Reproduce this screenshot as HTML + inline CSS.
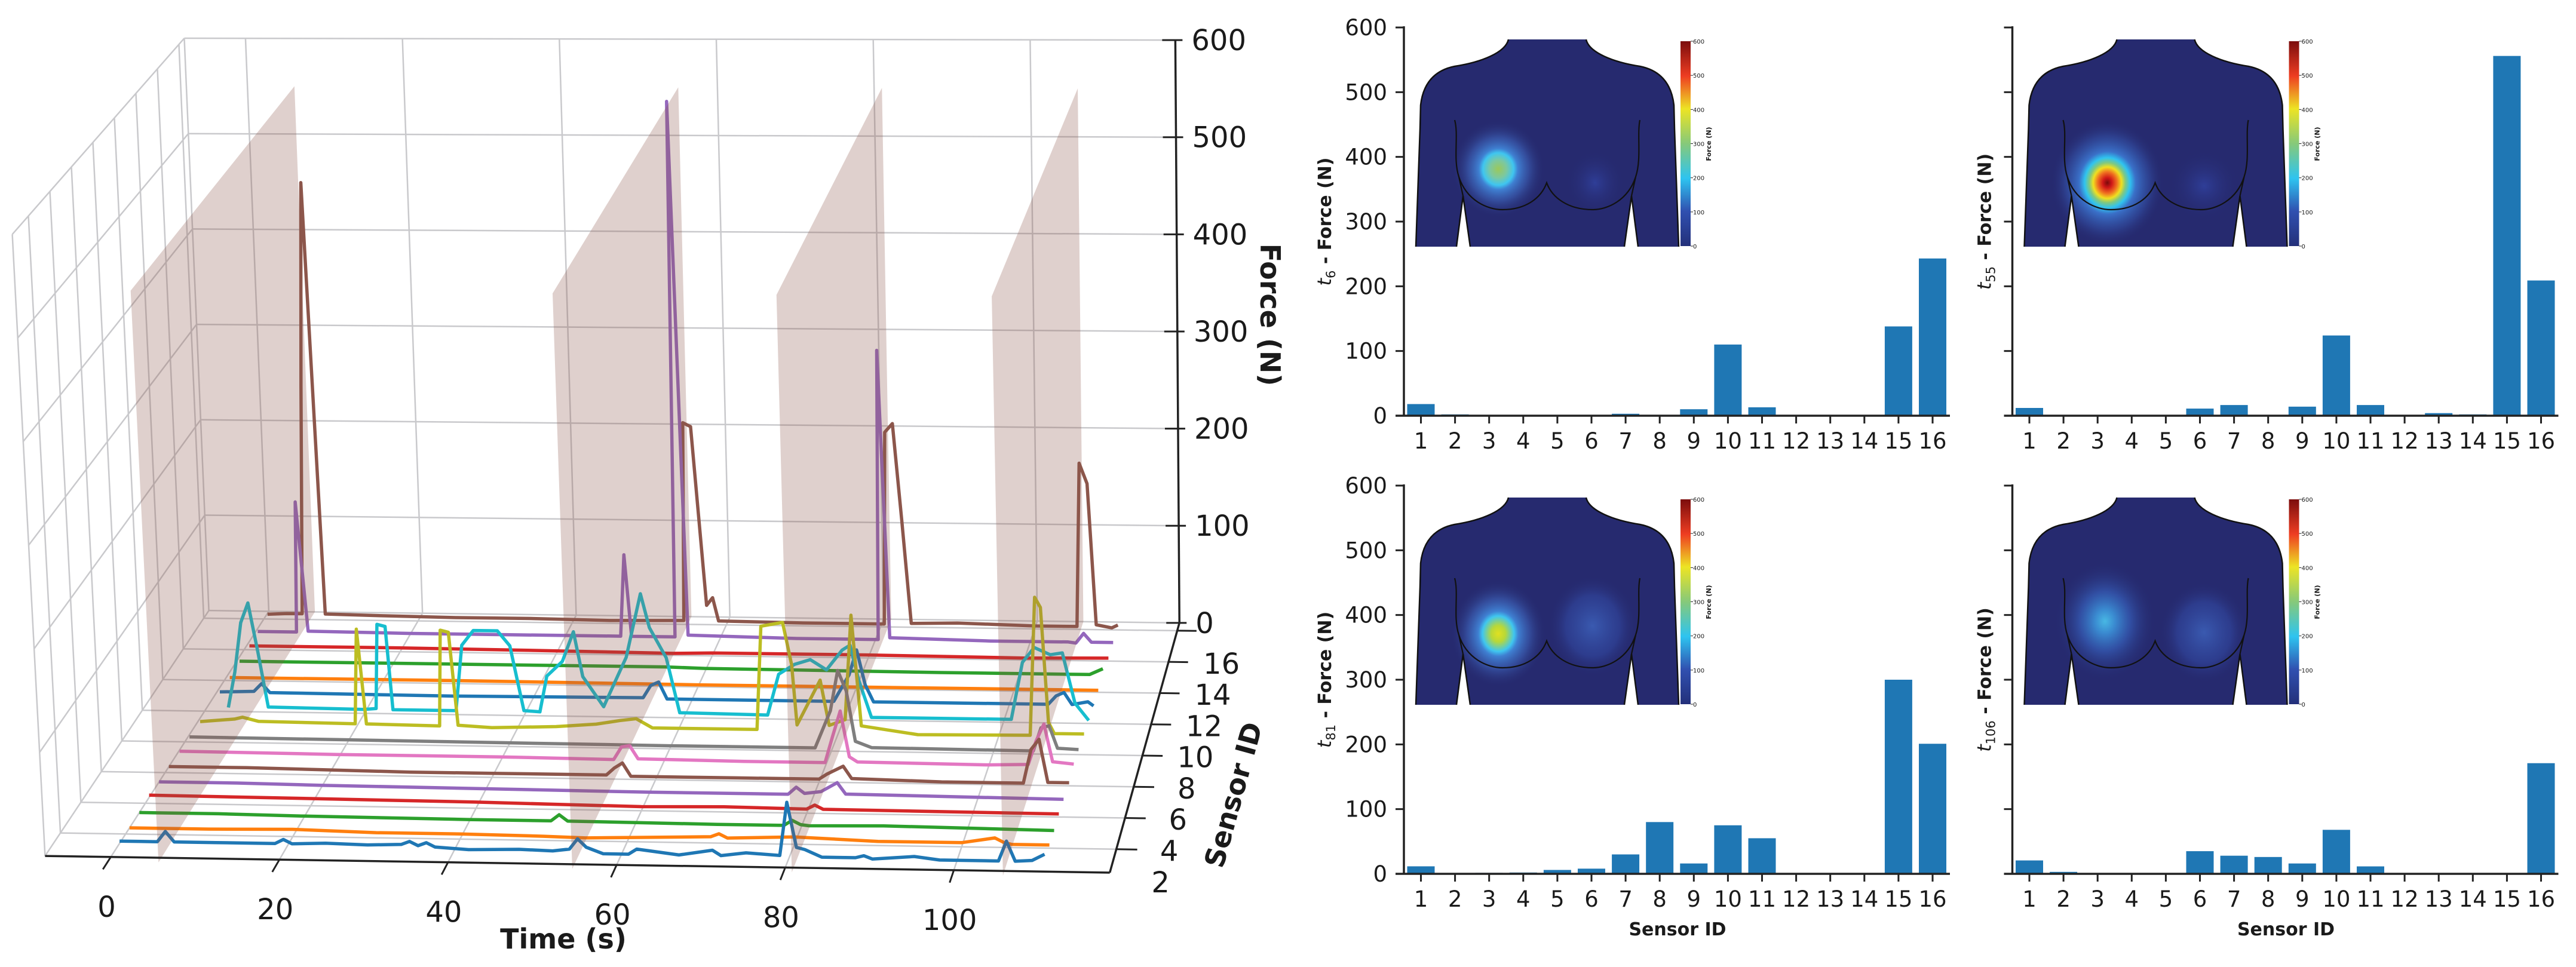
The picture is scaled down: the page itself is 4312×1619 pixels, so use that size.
<!DOCTYPE html>
<html><head><meta charset="utf-8"><title>Sensor force 3D and bar charts</title>
<style>
html,body{margin:0;padding:0;background:#fff;}
svg{display:block;font-family:"DejaVu Sans","Liberation Sans",sans-serif;}
</style></head>
<body>
<svg id="fig" xmlns="http://www.w3.org/2000/svg" width="4312" height="1619" viewBox="0 0 4312 1619">
  <defs>
    <linearGradient id="jet" x1="0" y1="1" x2="0" y2="0">
      <stop offset="0" stop-color="#23307a"/><stop offset="0.17" stop-color="#3050b0"/>
      <stop offset="0.33" stop-color="#2ec4f0"/><stop offset="0.5" stop-color="#86c97a"/>
      <stop offset="0.67" stop-color="#ede424"/><stop offset="0.83" stop-color="#ee3d22"/>
      <stop offset="1" stop-color="#7c0d0d"/>
    </linearGradient>
    <radialGradient id="blobT6"><stop offset="0" stop-color="#9bc85a"/><stop offset="0.18" stop-color="#7cc8a0"/><stop offset="0.33" stop-color="#3fc6f0"/><stop offset="0.42" stop-color="#3f80d2"/><stop offset="0.65" stop-color="#3a5cb0" stop-opacity="0.7"/><stop offset="1" stop-color="#262a6f" stop-opacity="0"/></radialGradient>
    <radialGradient id="blobT55"><stop offset="0" stop-color="#7a0a0a"/><stop offset="0.08" stop-color="#d01818"/><stop offset="0.17" stop-color="#f07020"/><stop offset="0.25" stop-color="#f0e020"/><stop offset="0.32" stop-color="#80c880"/><stop offset="0.4" stop-color="#30c4f0"/><stop offset="0.5" stop-color="#3a70c8"/><stop offset="0.75" stop-color="#30489a" stop-opacity="0.7"/><stop offset="1" stop-color="#262a6f" stop-opacity="0"/></radialGradient>
    <radialGradient id="blobT81"><stop offset="0" stop-color="#e0e020"/><stop offset="0.15" stop-color="#b8d838"/><stop offset="0.33" stop-color="#3fc6f0"/><stop offset="0.42" stop-color="#3f80d2"/><stop offset="0.65" stop-color="#3a5cb0" stop-opacity="0.7"/><stop offset="1" stop-color="#262a6f" stop-opacity="0"/></radialGradient>
    <radialGradient id="blobT106"><stop offset="0" stop-color="#48b8e4"/><stop offset="0.2" stop-color="#3a8ad0"/><stop offset="0.5" stop-color="#3458b0" stop-opacity="0.8"/><stop offset="1" stop-color="#262a6f" stop-opacity="0"/></radialGradient>
    <radialGradient id="blobFaint"><stop offset="0" stop-color="#2f3e98"/><stop offset="1" stop-color="#262a6f" stop-opacity="0"/></radialGradient>
    <radialGradient id="blobMid"><stop offset="0" stop-color="#3a5ab0"/><stop offset="0.6" stop-color="#30449a" stop-opacity="0.7"/><stop offset="1" stop-color="#262a6f" stop-opacity="0"/></radialGradient>
    <clipPath id="bodyClip"><path d="M155,0 C150,22 110,38 65,45 C30,52 12,75 8,110 L7,150 L0,347 L68,347 L79,262 L91,347 L349,347 L361,262 L372,347 L440,347 L433,150 L432,110 C428,75 410,52 375,45 C330,38 290,22 285,0 Z"/></clipPath>
  </defs>
  <g id="plot3d"></g>
  <g id="bars"></g>
</svg>
<script>
// ---------- data ----------
const sensorIds = [1,2,3,4,5,6,7,8,9,10,11,12,13,14,15,16];
const forceTicks = [0,100,200,300,400,500,600];
const timeTicks = [0,20,40,60,80,100];
const sensorTicks = [2,4,6,8,10,12,14,16];
const snapshotTimes = [6,55,81,106];
const barsT6 = [18,2,0,0,0,0,3,0,10,110,13,0,0,0,138,243];
const barsT55 = [12,0,0,0,0,11,16.5,0,14,124,16.5,0,4,2,556,209];
const barsT81 = [11.6,0,1.5,2,6,8,30,80,16,75,55,0,0,1,300,201];
const barsT106 = [20.7,3,0,0,0,35,28,26,16,68,11.5,0,0,1,1,171];

const sensor1 = [[0.5,8],[3,8],[5,8],[6,18],[7,8],[12,8],[15,8],[19,8],[20,12],[21,8],[25,9],[30,8],[34,9],[35,12],[36,8],[37,11],[38,7],[42,5],[48,6],[52,5],[54,7],[55,17],[56,9],[58,3],[61,3],[62,8],[64,6],[67,3],[71,8],[72,3],[75,6],[79,4],[80,55],[81,12],[82,10],[84,3],[88,3],[89,5],[90,2],[95,5],[98,2],[105,2],[106,21],[107,2],[109,3],[110.5,9]];
const sensor2 = [[0.5,6],[10,6],[20,7],[30,5],[40,5],[50,4],[55,3],[60,4],[70,6],[71,9],[72,5],[80,7],[90,4],[100,4],[104,9],[105,5],[106,3],[110.5,3]];
const sensor3 = [[0.5,6],[10,6],[20,5],[40,4],[50,4],[51,10],[52,4],[70,3],[78,3],[79,8],[80,4],[81,3],[90,4],[110.5,2]];
const sensor4 = [[0.5,8],[20,7],[40,6],[50,5],[60,4],[70,5],[80,4],[81,8],[82,4],[110.5,3]];
const sensor5 = [[0.5,6],[10,6],[20,5],[40,4],[60,3],[77,3],[78,10],[79,4],[81,6],[83,15],[84,4],[110.5,2]];
const sensor6 = [[0.5,6],[10,6],[20,5],[30,4],[40,4],[54,4],[55,11],[56,16],[57,3],[70,3],[80,3],[81,8],[83,16],[84,4],[95,2],[105,2],[106,35],[107,45],[108,3],[110.6,3]];
const sensor7 = [[0.6,6],[20,5],[40,5],[54,4],[55,16.5],[56,18],[57,5],[70,4],[80,4],[81,30],[82,55],[83,10],[84,5],[100,4],[105,5],[106,28],[107,45],[108,8],[110.6,6]];
const sensor8 = [[0.6,5],[30,4],[60,3],[78,3],[80,40],[81,80],[82,60],[83,10],[85,4],[105,3],[106,26],[107,28],[108,6],[110.6,5]];
const sensor9 = [[0.7,5],[5,8],[6,10],[8,6],[20,5],[20.6,100],[21.4,5],[30.5,4],[31,100],[32,98],[32.8,5],[37,3],[45,5],[50,8],[53,12],[55,14],[57,5],[70,5],[70.8,108],[73.5,112],[74.5,70],[75,10],[78,55],[79,10],[81,16],[82,120],[83,10],[90,2],[104,3],[104.8,140],[105.5,130],[106.3,16],[107,5],[110.7,5]];
const sensor10 = [[3,4],[4,40],[5,90],[6,110],[7,60],[8,5],[20,4],[21.5,5],[22,90],[23,88],[23.6,4],[31.5,4],[32.5,70],[34,85],[37,85],[38.5,70],[40,5],[42,4],[43,40],[45,55],[46.5,85],[47.5,40],[50,10],[53,60],[55,124],[56,90],[58,60],[59.5,5],[70.5,4],[72,45],[74,55],[76,60],[78,50],[80,70],[81,75],[82,40],[83.5,3],[101,3],[102.5,60],[104,75],[106,68],[107.5,70],[109,20],[110.7,3]];
const sensor11 = [[0.7,4],[5,5],[6,13],[7,4],[30,3],[54,4],[55,16.5],[56,20],[57,3],[78,3],[80,30],[81,55],[82,20],[83,3],[105,3],[106,11.5],[107,15],[108,3],[110,6],[110.7,2]];
const sensor12 = [[0.7,3],[30,3],[60,2],[90,2],[110.7,2]];
const sensor13 = [[0.7,4],[30,4],[55,4],[60,3],[90,2],[109,2],[110.7,8]];
const sensor14 = [[0.7,4],[20,4],[40,3],[55,2],[60,3],[80,3],[100,2],[110.8,3]];
const sensor15 = [[0.5,3],[5.5,3],[6,138],[7,4],[20,3],[40,3],[47.3,3],[48,87],[48.7,3],[54.3,3],[55,555],[56,5],[70,3],[80.5,3],[81,300],[82,5],[95,3],[105,3],[106,2],[107,12],[108,3],[110.8,3]];
const sensor16 = [[0.5,5],[3,6],[5,6],[6,243],[7,456],[8,6],[15,5],[25,4],[35,4],[45,3],[54.5,4],[55,209],[56,205],[57.5,20],[58.3,28],[59,4],[70,3],[80.5,3],[81,201],[82,210],[83,110],[84,4],[90,5],[100,3],[105.5,3],[106,171],[107,150],[108,5],[110,2],[110.8,5]];
const allSensors = [sensor1,sensor2,sensor3,sensor4,sensor5,sensor6,sensor7,sensor8,sensor9,sensor10,sensor11,sensor12,sensor13,sensor14,sensor15,sensor16];
const sensorColors = ['#1f77b4','#ff7f0e','#2ca02c','#d62728','#9467bd','#8c564b','#e377c2','#7f7f7f','#bcbd22','#17becf','#1f77b4','#ff7f0e','#2ca02c','#d62728','#9467bd','#8c564b'];

const NS = 'http://www.w3.org/2000/svg';
function mk(tag, parent){ const e=document.createElementNS(NS,tag); parent.appendChild(e); return e; }
function set(e, o){ for(const k in o) e.setAttribute(k,o[k]); return e; }

// ---------- 3D projection ----------
const T0=-7.8, T1=118.5, S0=0.5, S1=16.5, FMAX=600;
function P(t,s,f){
  const u=(t-T0)/(T1-T0), d=(s-S0)/(S1-S0);
  const fx=55+u*1300, fy=1388+u*27, bx=255+u*1185, by=990+u*20;
  const x=fx+(bx-fx)*d, y=fy+(by-fy)*d;
  const ufx=-40+u*28, ufy=-1008-u*17, ubx=-30+u*25, uby=-928-u*17;
  const ux=ufx+(ubx-ufx)*d, uy=ufy+(uby-ufy)*d;
  return [(x+ux*f/FMAX)*1.371, (y+uy*f/FMAX)*1.0325];
}
const g3 = document.getElementById('plot3d');
function seg(a,b,stroke,w,name){
  const l=mk('line',g3); set(l,{x1:a[0],y1:a[1],x2:b[0],y2:b[1],stroke:stroke,'stroke-width':w});
  
  
  return l;
}
const GC='#c9c9cc';
timeTicks.forEach(t=>seg(P(t,S1,0),P(t,S1,FMAX),GC,2.5,'back-wall-gridline'));
forceTicks.forEach(f=>seg(P(T0,S1,f),P(T1,S1,f),GC,2.5,'back-wall-gridline'));
seg(P(T0,S1,0),P(T0,S1,FMAX),GC,2.5,'pane-edge');
sensorTicks.forEach(s=>seg(P(T0,s,0),P(T0,s,FMAX),GC,2.5,'left-wall-gridline'));
forceTicks.forEach(f=>seg(P(T0,S0,f),P(T0,S1,f),GC,2.5,'left-wall-gridline'));
seg(P(T0,S0,0),P(T0,S0,FMAX),GC,2.5,'pane-edge');
timeTicks.forEach(t=>seg(P(t,S0,0),P(t,S1,0),GC,2.5,'floor-gridline'));
sensorTicks.forEach(s=>seg(P(T0,s,0),P(T1,s,0),GC,2.5,'floor-gridline'));

for(let i=allSensors.length-1;i>=0;i--){
  const pts=allSensors[i], s=sensorIds[i];
  const d=pts.map((p,j)=>{const q=P(p[0],s,p[1]);return (j?'L':'M')+q[0].toFixed(1)+' '+q[1].toFixed(1);}).join(' ');
  const pth=mk('path',g3); set(pth,{d:d,fill:'none',stroke:sensorColors[i],'stroke-width':5.5,'stroke-linejoin':'round'});
  
  
}
snapshotTimes.forEach(t=>{
  const a=P(t,0.2,0),b=P(t,S1,0),c=P(t,S1,550),e=P(t,0.2,550);
  const pg=mk('polygon',g3); set(pg,{points:[a,b,c,e].map(p=>p.join(',')).join(' '),fill:'#8c564b','fill-opacity':0.28});
  
  
});
const AX='#222';
seg(P(T0,S0,0),P(T1,S0,0),AX,3.5,'time-axis-line');
seg(P(T1,S0,0),P(T1,S1,0),AX,3.5,'sensor-axis-line');
seg(P(T1,S1,0),P(T1,S1,FMAX),AX,3.5,'force-axis-line');
function txt(parent,x,y,str,size,anchor,extra){
  const t=mk('text',parent); set(t,{x:x,y:y,'font-size':size,'text-anchor':anchor||'middle',fill:'#1a1a1a'});
  if(extra) set(t,extra);
  t.textContent=str; return t;
}
timeTicks.forEach(t=>{
  seg(P(t,S0,0),P(t,-0.3,0),AX,3,'time-tick');
  const p=P(t,S0,0);
  const lb=txt(g3,p[0]-7,p[1]+100,String(t),48);
  
  
});
sensorTicks.forEach(s=>{
  seg(P(T1,s,0),P(T1+2.5,s,0),AX,3,'sensor-tick');
  const p=P(T1,s,0);
  const lb=txt(g3,p[0]+74,p[1]+72,String(s),48);
  
  
});
forceTicks.forEach(f=>{
  const p=P(T1,S1,f);
  seg([p[0]-22,p[1]],[p[0]+12,p[1]],AX,3,'force-tick');
  const lb=txt(g3,p[0]+27,p[1]+17,String(f),48,'start');
  
  
});
const tl=txt(g3,943,1588,'Time (s)',46,'middle',{'font-weight':'bold'});


const fl=txt(g3,0,0,'Force (N)',46,'middle',{'font-weight':'bold',transform:'translate(2110,527) rotate(90)'});


const sl=txt(g3,0,0,'Sensor ID',46,'middle',{'font-weight':'bold',transform:'translate(2080,1335) rotate(-74.5)'});



// ---------- bar panels ----------
const gb=document.getElementById('bars');
const panels=[
  {ax:2350,y0:696,y600:46,vals:barsT6,sub:'6',yt:true,xl:false,blob:'blobT6',bx:138,by:217,rx:78,ry:82,side:'blobFaint',sx:300,sy:240,srx:50,sry:55},
  {ax:3368.5,y0:696,y600:46,vals:barsT55,sub:'55',yt:false,xl:false,blob:'blobT55',bx:139,by:240,rx:95,ry:105,side:'blobFaint',sx:301,sy:245,srx:60,sry:60},
  {ax:2350,y0:1463,y600:813,vals:barsT81,sub:'81',yt:true,xl:true,blob:'blobT81',bx:138,by:228,rx:80,ry:90,side:'blobMid',sx:296,sy:215,srx:75,sry:85},
  {ax:3368.5,y0:1463,y600:813,vals:barsT106,sub:'106',yt:false,xl:true,blob:'blobT106',bx:135,by:207,rx:85,ry:100,side:'blobMid',sx:301,sy:226,srx:75,sry:85}
];
panels.forEach((pn,pi)=>{
  const g=mk('g',gb);
  
  
  const ys=(pn.y0-pn.y600)/600;
  const xc=i=>pn.ax+28.5+i*57.1;
  pn.vals.forEach((v,i)=>{
    const r=mk('rect',g); set(r,{x:xc(i)-23,y:pn.y0-v*ys,width:46,height:v*ys,fill:'#1f77b4'});
    
    
  });
  const sp1=mk('line',g); set(sp1,{x1:pn.ax,y1:pn.y600-2,x2:pn.ax,y2:pn.y0,stroke:'#222','stroke-width':3.5});
  
  
  const sp2=mk('line',g); set(sp2,{x1:pn.ax-14,y1:pn.y0,x2:xc(15)+29,y2:pn.y0,stroke:'#222','stroke-width':3.5});
  
  
  forceTicks.forEach(f=>{
    const y=pn.y0-f*ys;
    const tk=mk('line',g); set(tk,{x1:pn.ax-14,y1:y,x2:pn.ax,y2:y,stroke:'#222','stroke-width':3});
    
    
    if(pn.yt){
      const lb=txt(g,pn.ax-28,y+13,String(f),37,'end');
      
      
    }
  });
  sensorIds.forEach((s,i)=>{
    const tk=mk('line',g); set(tk,{x1:xc(i),y1:pn.y0,x2:xc(i),y2:pn.y0+13,stroke:'#222','stroke-width':3});
    
    
    const lb=txt(g,xc(i),pn.y0+55,String(s),37);
    
    
  });
  if(pn.xl){
    const xl=txt(g,pn.ax+458,pn.y0+103,'Sensor ID',30,'middle',{'font-weight':'bold'});
    
    
  }
  const ylx = pn.yt ? pn.ax-122 : pn.ax-36;
  const yl=mk('text',g); set(yl,{transform:'translate('+ylx+','+((pn.y0+pn.y600)/2)+') rotate(-90)','text-anchor':'middle','font-size':30,'font-weight':'bold',fill:'#1a1a1a'});
  
  
  yl.innerHTML='<tspan font-style="italic" font-weight="normal" font-size="32">t</tspan><tspan font-weight="normal" font-size="21" dy="7">'+pn.sub+'</tspan><tspan dy="-7"> - Force (N)</tspan>';
  const top=pn.y600+20;
  const ins=mk('g',g); set(ins,{transform:'translate('+(pn.ax+20)+','+top+')'});
  
  
  const bodyD='M155,0 C150,22 110,38 65,45 C30,52 12,75 8,110 L7,150 L0,347 L68,347 L79,262 L91,347 L349,347 L361,262 L372,347 L440,347 L433,150 L432,110 C428,75 410,52 375,45 C330,38 290,22 285,0 Z';
  const body=mk('path',ins); set(body,{d:bodyD,fill:'#262a6f'});
  
  
  const cg=mk('g',ins); set(cg,{'clip-path':'url(#bodyClip)'});
  const e2=mk('ellipse',cg); set(e2,{cx:pn.sx,cy:pn.sy,rx:pn.srx,ry:pn.sry,fill:'url(#'+pn.side+')'});
  
  
  const e1=mk('ellipse',cg); set(e1,{cx:pn.bx,cy:pn.by,rx:pn.rx,ry:pn.ry,fill:'url(#'+pn.blob+')'});
  
  
  const ol=mk('path',ins); set(ol,{d:'M155,0 C150,22 110,38 65,45 C30,52 12,75 8,110 L7,150 L0,347 M68,347 L79,262 L91,347 M349,347 L361,262 L372,347 M440,347 L433,150 L432,110 C428,75 410,52 375,45 C330,38 290,22 285,0',fill:'none',stroke:'#111','stroke-width':2.5});
  
  
  const br=mk('path',ins); set(br,{d:'M65,135 C72,160 62,200 72,230 C85,270 120,285 145,285 C185,285 210,265 219,240 C228,265 255,285 296,285 C320,285 355,270 368,230 C378,200 370,160 375,135 M79,262 L72,230 M361,262 L368,230',fill:'none',stroke:'#111','stroke-width':2.2});
  
  
  const cb=mk('rect',ins); set(cb,{x:443,y:3,width:17,height:343,fill:'url(#jet)'});
  
  
  forceTicks.forEach(f=>{
    const y=346-f/600*343;
    const tk=mk('line',ins); set(tk,{x1:460,y1:y,x2:464,y2:y,stroke:'#222','stroke-width':1});
    
    
    const lb=txt(ins,464,y+4,String(f),10,'start');
    
    
  });
  const cl=txt(ins,0,0,'Force (N)',11,'middle',{'font-weight':'bold',transform:'translate(494,175) rotate(-90)'});
  
  
});
</script>
</body></html>
